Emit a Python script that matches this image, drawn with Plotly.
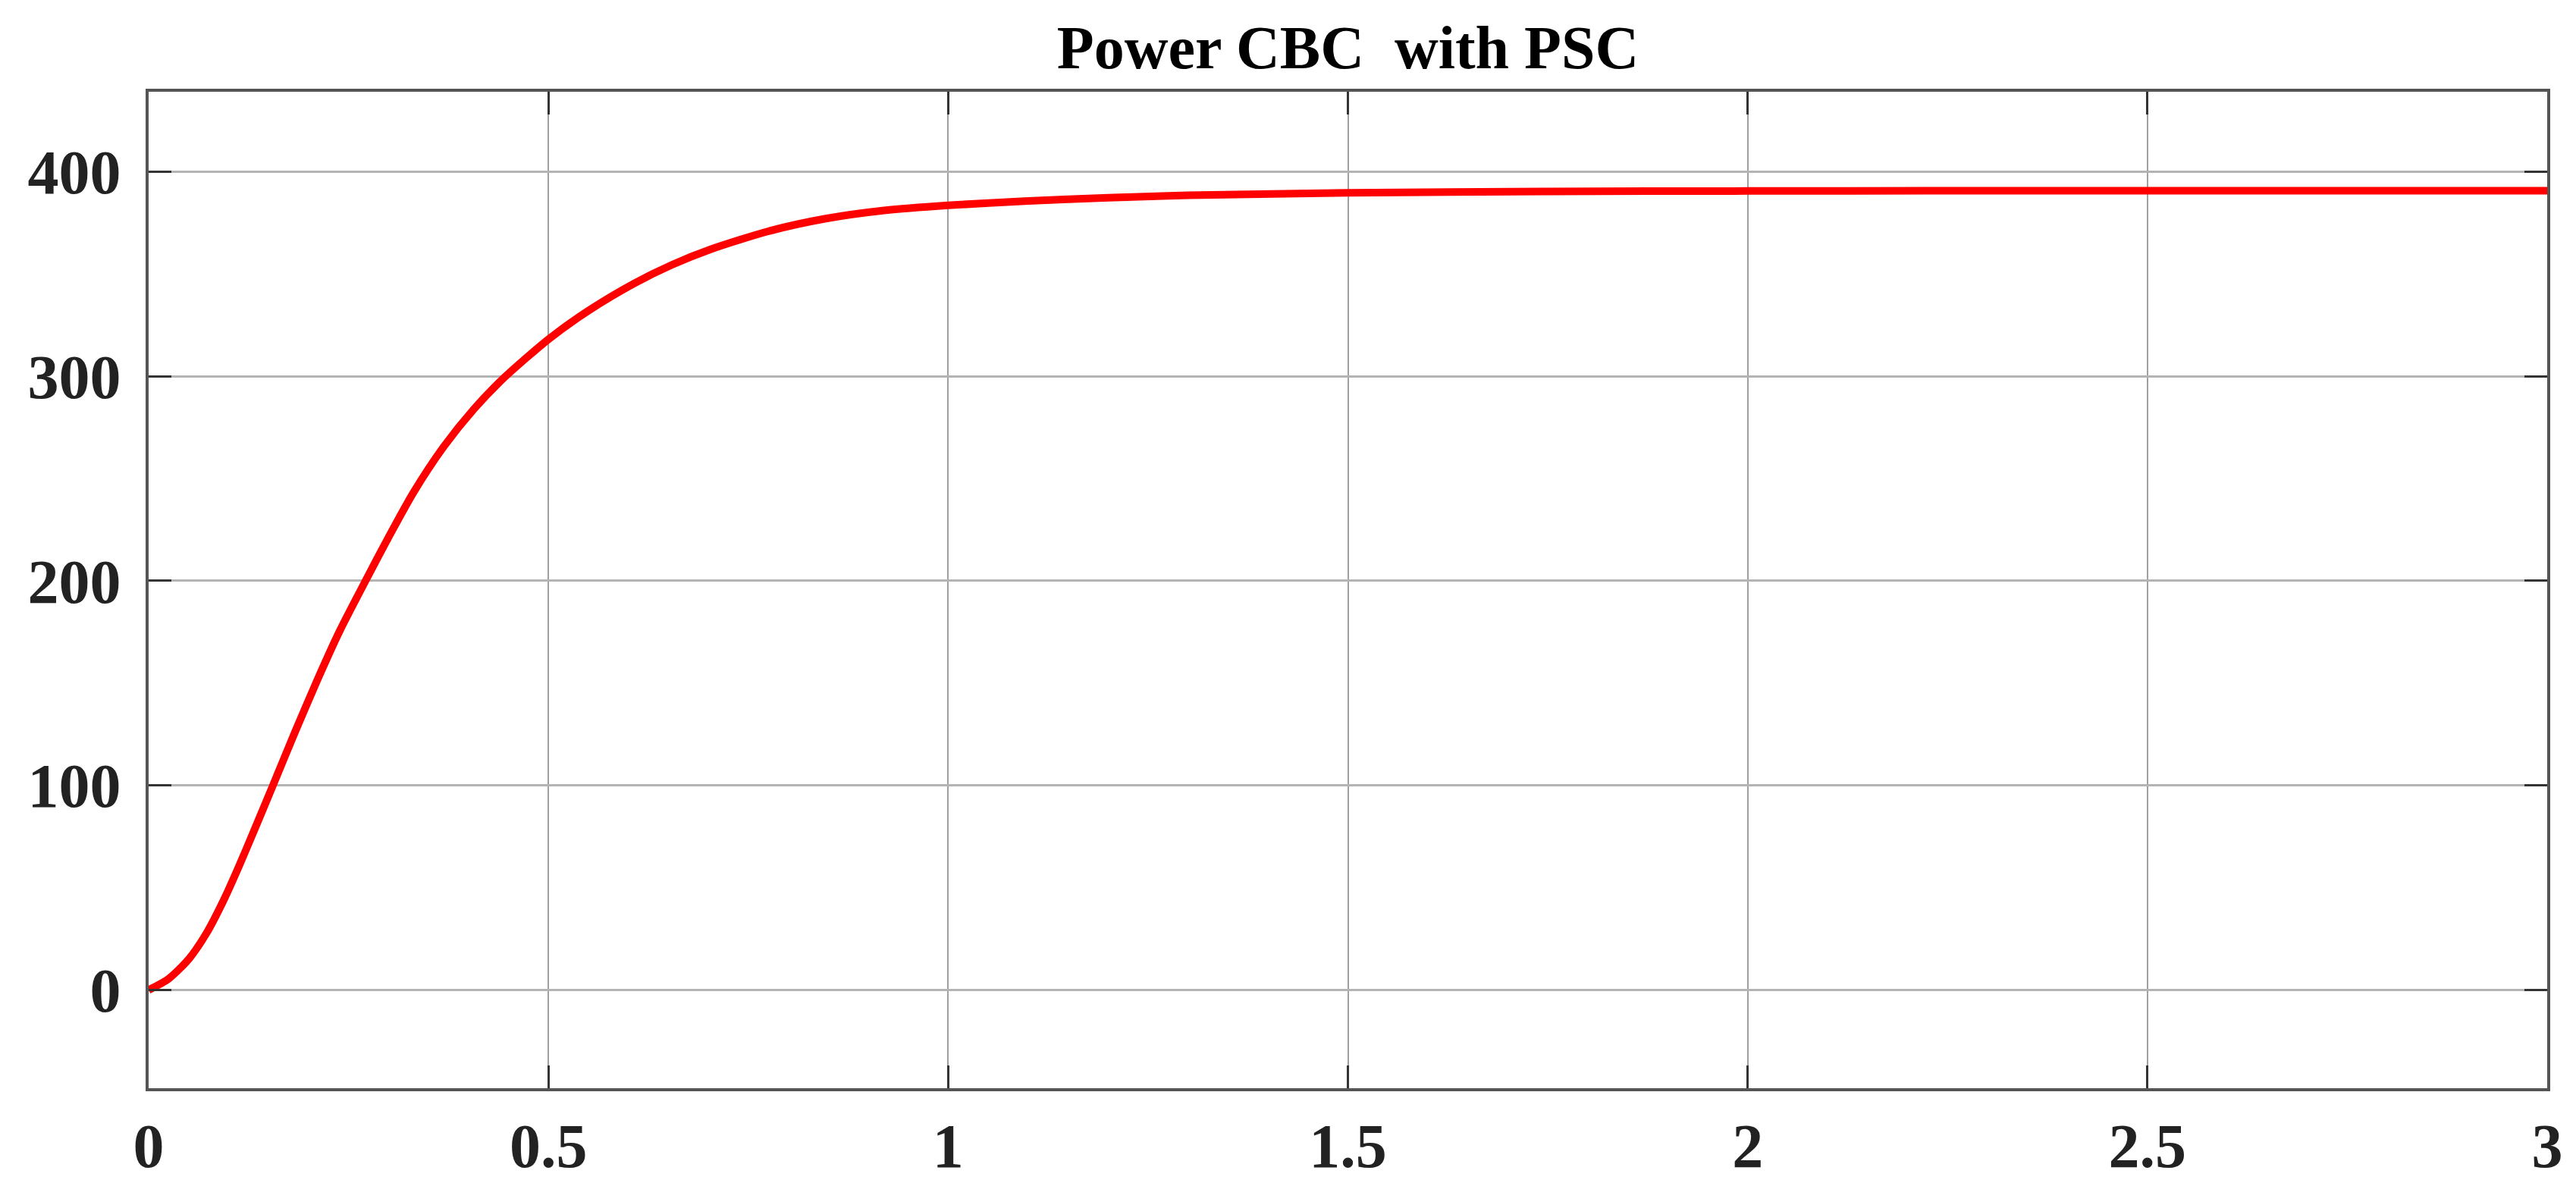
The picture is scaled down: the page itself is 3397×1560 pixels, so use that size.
import plotly.graph_objects as go

# time (s) and power (W)
time_s = [0.0, 0.025, 0.05, 0.072, 0.094, 0.113, 0.132, 0.156, 0.183, 0.211, 0.239,
          0.272, 0.299, 0.331, 0.369, 0.407, 0.444, 0.5, 0.55, 0.608, 0.655,
          0.703, 0.775, 0.847, 0.92, 1.0, 1.1, 1.2, 1.3, 1.5, 1.75, 2.0,
          2.25, 2.5, 2.75, 3.0]
power_w = [0.0, 5.5, 15.0, 27.5, 44.0, 60.5, 78.0, 100.5, 126.0, 151.5, 175.5,
           200.5, 220.5, 243.0, 265.5, 284.0, 299.0, 318.0, 332.0, 345.5, 354.5,
           362.0, 370.8, 377.0, 381.0, 383.5, 385.6, 387.2, 388.4, 389.6, 390.3, 390.5,
           390.6, 390.6, 390.6, 390.6]

x_ticks = [0, 0.5, 1, 1.5, 2, 2.5, 3]
x_tick_labels = ["0", "0.5", "1", "1.5", "2", "2.5", "3"]
y_ticks = [0, 100, 200, 300, 400]
y_tick_labels = ["0", "100", "200", "300", "400"]

title_text = "Power CBC\u00a0 with PSC"

font_family = "Liberation Serif, Times New Roman, serif"

fig = go.Figure()
fig.add_trace(go.Scatter(
    x=time_s, y=power_w, mode="lines",
    line=dict(color="#ff0000", width=10, shape="spline", smoothing=0.7),
    showlegend=False,
))

fig.update_layout(
    width=3397, height=1560,
    margin=dict(l=188, r=46, t=113, b=133),
    paper_bgcolor="white", plot_bgcolor="white",
    title=dict(text="<b>" + title_text + "</b>", x=0.5, xref="paper", xanchor="center",
               y=1 - 54 / 1560, yanchor="middle",
               font=dict(family=font_family, size=80, color="black")),
    font=dict(family=font_family, color="#222222"),
)

fig.update_xaxes(
    range=[0, 3], tickvals=x_ticks,
    ticktext=["<b>" + t + "</b>" for t in x_tick_labels],
    tickfont=dict(family=font_family, size=82, color="#222222"),
    showgrid=True, gridcolor="#a0a0a0", gridwidth=2,
    showline=True, linecolor="#555555", linewidth=4, mirror="ticks",
    ticks="inside", ticklen=30, tickwidth=3, tickcolor="#333333",
    zeroline=False, ticklabelstandoff=2,
)
fig.update_yaxes(
    range=[-48, 439], tickvals=y_ticks,
    ticktext=["<b>" + t + "</b>" for t in y_tick_labels],
    tickfont=dict(family=font_family, size=82, color="#222222"),
    showgrid=True, gridcolor="#b4b4b4", gridwidth=3,
    showline=True, linecolor="#555555", linewidth=4, mirror="ticks",
    ticks="inside", ticklen=30, tickwidth=3, tickcolor="#333333",
    zeroline=False, ticklabelstandoff=16,
)

fig.write_html("out.html")
